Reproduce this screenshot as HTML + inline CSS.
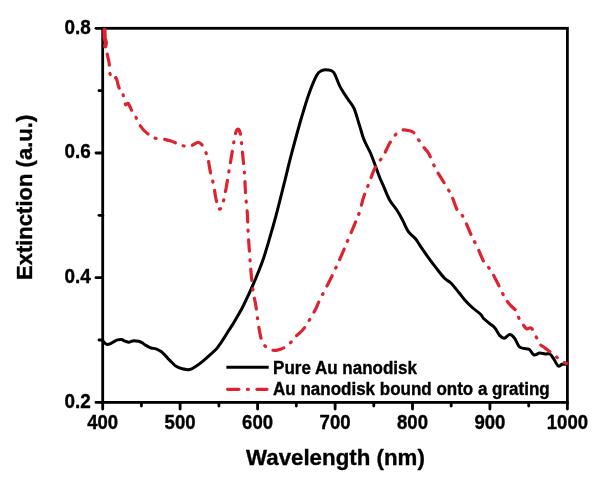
<!DOCTYPE html>
<html><head><meta charset="utf-8"><style>
html,body{margin:0;padding:0;background:#fff;}
svg{display:block;will-change:transform;}
text{font-family:"Liberation Sans",sans-serif;font-weight:bold;fill:#000;stroke:#000;stroke-width:0.35px;}
</style></head><body>
<svg width="601" height="483" viewBox="0 0 601 483">
<rect width="601" height="483" fill="#fff"/>
<g stroke="#000" stroke-width="2.8" fill="none" stroke-linecap="butt">
<rect x="102.7" y="28.3" width="464.7" height="374.1" stroke-linejoin="miter"/>
<line x1="102.7" y1="402.4" x2="102.7" y2="409.1" stroke-linecap="round"/><line x1="141.4" y1="402.4" x2="141.4" y2="406.1" stroke-linecap="round"/><line x1="180.1" y1="402.4" x2="180.1" y2="409.1" stroke-linecap="round"/><line x1="218.9" y1="402.4" x2="218.9" y2="406.1" stroke-linecap="round"/><line x1="257.6" y1="402.4" x2="257.6" y2="409.1" stroke-linecap="round"/><line x1="296.3" y1="402.4" x2="296.3" y2="406.1" stroke-linecap="round"/><line x1="335.1" y1="402.4" x2="335.1" y2="409.1" stroke-linecap="round"/><line x1="373.8" y1="402.4" x2="373.8" y2="406.1" stroke-linecap="round"/><line x1="412.5" y1="402.4" x2="412.5" y2="409.1" stroke-linecap="round"/><line x1="451.2" y1="402.4" x2="451.2" y2="406.1" stroke-linecap="round"/><line x1="489.9" y1="402.4" x2="489.9" y2="409.1" stroke-linecap="round"/><line x1="528.7" y1="402.4" x2="528.7" y2="406.1" stroke-linecap="round"/><line x1="567.4" y1="402.4" x2="567.4" y2="409.1" stroke-linecap="round"/><line x1="102.7" y1="402.4" x2="96.0" y2="402.4" stroke-linecap="round"/><line x1="102.7" y1="340.0" x2="99.0" y2="340.0" stroke-linecap="round"/><line x1="102.7" y1="277.7" x2="96.0" y2="277.7" stroke-linecap="round"/><line x1="102.7" y1="215.3" x2="99.0" y2="215.3" stroke-linecap="round"/><line x1="102.7" y1="153.0" x2="96.0" y2="153.0" stroke-linecap="round"/><line x1="102.7" y1="90.7" x2="99.0" y2="90.7" stroke-linecap="round"/><line x1="102.7" y1="28.3" x2="96.0" y2="28.3" stroke-linecap="round"/>
</g>
<path d="M103.3,341.4 C103.6,341.7 104.6,342.9 105.2,343.4 C105.8,343.9 106.1,344.4 107.0,344.4 C107.9,344.4 109.3,344.1 110.5,343.6 C111.7,343.1 112.8,342.2 114.0,341.6 C115.2,341.0 116.2,340.2 117.5,339.9 C118.8,339.6 120.2,339.4 121.5,339.6 C122.8,339.8 123.7,340.7 125.0,341.1 C126.3,341.5 127.6,342.3 129.1,342.2 C130.6,342.1 132.2,340.8 133.8,340.7 C135.4,340.6 137.1,341.0 138.4,341.3 C139.8,341.6 140.7,342.0 141.9,342.6 C143.1,343.2 144.0,344.3 145.4,345.1 C146.8,345.9 148.7,347.1 150.1,347.6 C151.5,348.2 152.4,348.1 153.6,348.4 C154.8,348.7 155.8,348.8 157.1,349.3 C158.3,349.8 159.8,350.5 161.1,351.5 C162.4,352.5 163.9,354.1 165.2,355.4 C166.5,356.7 167.5,358.0 168.7,359.3 C169.9,360.6 171.3,361.9 172.5,363.0 C173.7,364.1 174.1,365.0 175.7,366.0 C177.3,367.0 180.0,368.2 182.3,368.8 C184.6,369.4 187.4,369.9 189.6,369.5 C191.8,369.1 193.5,367.8 195.6,366.5 C197.7,365.2 200.1,363.4 202.3,361.6 C204.5,359.8 206.7,357.8 208.9,355.8 C211.1,353.8 213.8,351.7 215.6,349.8 C217.4,347.9 218.1,346.6 219.6,344.6 C221.1,342.6 222.8,340.0 224.3,337.6 C225.9,335.2 227.4,332.7 228.9,330.3 C230.4,327.9 232.1,325.6 233.6,323.0 C235.1,320.4 236.6,317.8 238.2,315.0 C239.8,312.2 240.7,311.1 243.2,306.0 C245.7,300.9 249.9,292.1 253.2,284.4 C256.5,276.7 259.8,269.2 263.1,259.6 C266.4,250.0 270.5,235.1 273.0,226.5 C275.5,217.9 276.2,215.1 278.0,208.0 C279.8,200.9 281.7,193.3 284.0,184.2 C286.3,175.1 288.8,164.1 291.7,153.2 C294.6,142.3 298.2,128.8 301.1,119.0 C304.0,109.2 306.2,101.5 308.8,94.2 C311.4,87.0 314.5,79.4 316.6,75.5 C318.7,71.6 319.4,71.8 321.2,70.9 C323.0,70.0 325.4,69.7 327.5,69.9 C329.6,70.2 331.6,69.7 333.7,72.4 C335.8,75.2 337.6,82.0 339.9,86.4 C342.2,90.8 345.3,95.2 347.6,98.8 C349.9,102.4 352.1,104.2 353.9,108.1 C355.7,112.0 356.9,117.2 358.5,122.1 C360.1,127.0 361.9,133.8 363.2,137.6 C364.5,141.4 365.1,142.2 366.4,144.8 C367.6,147.5 369.2,150.1 370.7,153.5 C372.1,156.9 373.7,161.2 375.1,165.1 C376.6,169.0 377.9,173.1 379.4,176.7 C380.8,180.3 382.1,182.9 383.8,186.8 C385.5,190.7 387.4,196.0 389.6,199.9 C391.8,203.8 394.6,206.6 396.8,210.0 C399.0,213.4 400.7,216.5 402.6,220.1 C404.5,223.7 406.2,228.5 408.4,231.7 C410.6,234.8 413.5,236.3 415.7,239.0 C417.9,241.7 419.4,244.7 421.4,247.7 C423.4,250.7 425.2,253.2 427.8,256.8 C430.4,260.4 434.3,265.6 437.1,269.2 C439.9,272.8 442.5,276.2 444.8,278.5 C447.1,280.8 448.8,280.9 451.1,283.2 C453.4,285.5 456.5,289.7 458.8,292.5 C461.1,295.3 462.7,297.6 465.0,300.2 C467.3,302.8 470.2,305.7 472.8,308.0 C475.4,310.3 478.8,312.4 480.6,314.2 C482.4,316.0 482.2,317.1 483.7,318.6 C485.1,320.1 487.4,321.7 489.3,323.3 C491.2,324.9 493.2,326.0 494.9,328.0 C496.6,330.0 498.1,333.7 499.6,335.4 C501.2,337.1 502.5,338.3 504.2,338.2 C505.9,338.1 508.1,334.5 509.8,334.5 C511.5,334.5 513.0,336.2 514.5,338.2 C516.0,340.2 517.6,344.9 519.1,346.6 C520.6,348.3 522.1,347.9 523.8,348.4 C525.5,348.9 527.7,348.3 529.4,349.4 C531.1,350.5 532.3,354.4 534.0,355.0 C535.7,355.6 537.7,353.3 539.6,353.1 C541.5,352.9 543.5,353.9 545.2,354.0 C546.9,354.1 548.5,353.2 549.9,354.0 C551.3,354.8 552.2,356.7 553.6,358.7 C555.0,360.7 556.9,365.2 558.3,366.1 C559.7,367.0 560.6,364.6 562.0,364.3 C563.4,364.0 565.8,364.3 566.6,364.3" fill="none" stroke="#000" stroke-width="3" stroke-linejoin="round" stroke-linecap="round"/>
<path d="M104.5,29.9 L104.6,38 L105.9,42.5 L105.2,46.3" fill="none" stroke="#dd2230" stroke-width="4.2" stroke-linejoin="round" stroke-linecap="round"/>
<path id="r1" d="M107.2,54.0 C107.5,55.6 108.8,60.4 109.2,63.4 C109.6,66.5 108.8,69.6 109.5,72.3 C110.2,75.0 112.3,78.3 113.4,79.3 C114.5,80.2 115.3,76.6 116.2,78.0 C117.1,79.4 118.1,85.8 119.0,87.7 C119.9,89.6 121.0,88.0 121.8,89.6 C122.6,91.1 123.0,94.5 123.6,97.0 C124.2,99.5 124.7,103.4 125.5,104.5 C126.3,105.6 127.2,102.4 128.3,103.5 C129.4,104.6 130.8,108.8 132.0,111.0 C133.2,113.2 134.8,114.8 135.7,116.6 C136.6,118.4 136.8,120.5 137.6,122.1 C138.4,123.6 139.3,124.5 140.4,125.9 C141.5,127.3 142.6,128.9 144.1,130.5 C145.6,132.1 148.0,133.9 149.7,135.2 C151.4,136.4 152.1,137.4 154.3,138.0 C156.5,138.6 160.0,138.4 162.7,138.9 C165.3,139.4 168.0,140.1 170.2,140.8 C172.4,141.5 174.0,142.2 175.8,143.0 C177.7,143.8 179.0,144.8 181.3,145.4 C183.6,146.0 187.8,146.5 189.7,146.4 C191.6,146.3 191.6,145.5 193.0,144.8 C194.4,144.1 196.7,142.3 198.3,142.4 C199.9,142.5 201.3,143.9 202.5,145.5 C203.7,147.1 204.7,149.6 205.6,151.8 C206.5,154.1 207.2,155.7 208.0,159.0 C208.8,162.3 209.4,167.2 210.3,171.6 C211.2,176.0 212.8,180.7 213.7,185.3 C214.6,189.9 215.1,195.1 216.0,199.0 C216.9,202.9 218.3,208.2 219.4,209.0" fill="none" stroke="#dd2230" stroke-width="3.2" stroke-linejoin="round" stroke-linecap="round" stroke-dasharray="11.3 8.5 1 8.5"/>
<path id="r2" d="M219.4,209.0 C220.5,209.8 221.7,207.1 222.8,203.5 C223.9,199.9 225.0,193.7 226.2,187.6 C227.3,181.5 228.5,173.8 229.7,167.0 C230.8,160.2 232.2,151.9 233.1,146.5 C234.0,141.1 234.7,137.2 235.3,134.5 C235.9,131.8 236.2,131.4 236.6,130.5 C237.0,129.6 237.5,129.2 238.0,129.2 C238.5,129.2 239.0,129.5 239.4,130.6 C239.8,131.7 240.1,132.1 240.6,135.5 C241.1,138.9 241.7,144.6 242.3,151.0 C243.0,157.4 243.9,166.7 244.5,173.9 C245.1,181.1 245.1,187.4 245.6,194.4 C246.1,201.4 247.1,209.7 247.5,216.1 C247.9,222.5 247.7,224.8 248.2,233.1 C248.7,241.4 249.7,256.4 250.5,266.2 C251.3,276.0 252.3,285.6 253.2,292.0 C254.1,298.4 254.9,299.6 255.7,304.8 C256.5,310.0 257.5,318.3 258.2,323.0 C258.9,327.7 259.2,329.8 259.9,333.0 C260.6,336.2 261.0,339.5 262.4,342.1 C263.8,344.7 266.0,347.3 268.1,348.7 C270.2,350.1 272.9,350.3 274.8,350.4 C276.7,350.5 277.5,350.3 279.7,349.5 C281.9,348.7 285.5,347.4 288.0,345.4 C290.5,343.4 292.1,340.2 294.6,337.6 C297.1,335.0 300.4,332.6 302.9,329.7 C305.4,326.8 307.4,323.2 309.5,319.9 C311.6,316.6 313.6,313.0 315.3,309.8 C317.0,306.6 316.9,305.8 319.5,300.5 C322.1,295.2 327.5,285.0 330.9,278.2 C334.2,271.4 336.9,265.6 339.6,259.6 C342.3,253.6 344.5,248.0 347.0,242.2 C349.5,236.4 352.3,229.8 354.4,224.8 C356.5,219.8 357.9,216.8 359.4,212.4 C360.9,208.0 362.0,202.3 363.2,198.5 C364.4,194.7 365.4,192.4 366.5,189.5 C367.6,186.6 368.7,184.2 369.8,181.3 C370.9,178.4 371.9,175.1 373.1,172.2 C374.4,169.3 375.7,166.5 377.3,163.9 C378.9,161.3 381.5,158.8 383.0,156.4 C384.5,154.1 385.3,152.0 386.4,149.8 C387.5,147.6 388.3,145.5 389.7,143.2 C391.1,140.8 393.0,137.6 394.6,135.7 C396.2,133.8 398.1,132.6 399.6,131.6 C401.1,130.6 402.1,130.0 403.7,129.9 C405.3,129.8 407.8,130.4 409.5,130.8 C411.2,131.2 412.2,131.1 413.7,132.6 C415.2,134.1 417.1,137.6 418.6,139.9 C420.1,142.2 421.2,143.9 422.9,146.2 C424.6,148.5 426.8,150.1 428.7,153.5 C430.6,156.9 432.6,162.6 434.5,166.5 C436.4,170.4 438.1,173.1 440.3,176.7 C442.5,180.3 445.7,185.3 447.5,188.3 C449.3,191.3 450.1,192.8 451.1,194.7 C452.1,196.6 452.3,197.3 453.3,199.9 C454.3,202.5 455.9,207.7 457.3,210.2 C458.7,212.7 460.3,212.5 461.9,214.8 C463.4,217.1 465.1,220.8 466.6,224.2 C468.2,227.6 469.4,231.1 471.2,235.0 C473.0,238.9 475.4,243.1 477.5,247.5 C479.6,251.9 481.6,257.8 483.7,261.4 C485.8,265.0 488.1,266.6 489.9,269.2 C491.7,271.8 492.7,273.6 494.5,277.0 C496.3,280.4 498.9,285.8 500.7,289.4 C502.5,293.0 503.8,296.1 505.4,298.7 C507.0,301.3 508.3,302.8 510.1,304.9 C511.9,307.0 514.8,308.9 516.3,311.2 C517.8,313.5 518.0,316.4 519.1,318.6 C520.2,320.8 521.6,322.5 522.9,324.2 C524.1,325.9 525.2,328.3 526.6,328.9 C528.0,329.5 529.7,326.8 531.2,328.0 C532.8,329.2 534.5,333.7 535.9,336.3 C537.3,338.9 538.2,341.9 539.6,343.8 C541.0,345.7 542.9,346.4 544.3,347.5 C545.7,348.6 546.6,349.2 548.0,350.3 C549.4,351.4 551.3,352.9 552.7,354.0 C554.1,355.1 554.9,355.6 556.4,356.8 C557.9,358.1 560.3,360.4 562.0,361.5 C563.7,362.6 565.8,363.1 566.6,363.4" fill="none" stroke="#dd2230" stroke-width="3.2" stroke-linejoin="round" stroke-linecap="round" stroke-dasharray="11.3 8.5 1 8.5" stroke-dashoffset="10.0"/>
<g font-size="18.6">
<text transform="translate(102.7,429.2) scale(1,1.045)" text-anchor="middle">400</text><text transform="translate(180.1,429.2) scale(1,1.045)" text-anchor="middle">500</text><text transform="translate(257.6,429.2) scale(1,1.045)" text-anchor="middle">600</text><text transform="translate(335.1,429.2) scale(1,1.045)" text-anchor="middle">700</text><text transform="translate(412.5,429.2) scale(1,1.045)" text-anchor="middle">800</text><text transform="translate(489.9,429.2) scale(1,1.045)" text-anchor="middle">900</text><text transform="translate(567.4,429.2) scale(1,1.045)" text-anchor="middle">1000</text>
<text transform="translate(90.7,407.7) scale(1,1.045)" text-anchor="end" font-size="18.9">0.2</text><text transform="translate(90.7,283.0) scale(1,1.045)" text-anchor="end" font-size="18.9">0.4</text><text transform="translate(90.7,158.3) scale(1,1.045)" text-anchor="end" font-size="18.9">0.6</text><text transform="translate(90.7,33.6) scale(1,1.045)" text-anchor="end" font-size="18.9">0.8</text>
</g>
<text transform="translate(335.4,465.4) scale(1,1.025)" font-size="22.3" text-anchor="middle">Wavelength (nm)</text>
<text transform="translate(31.8,197.4) rotate(-90) scale(1,1.02)" font-size="22.05" text-anchor="middle">Extinction (a.u.)</text>
<line x1="226.4" y1="367.3" x2="268.7" y2="367.3" stroke="#000" stroke-width="2.9"/>
<path d="M227.6,389.3 L267,389.3" stroke="#dd2230" stroke-width="3.2" stroke-linecap="round" stroke-dasharray="11.3 8.5 1 8.5" fill="none"/>
<g font-size="17">
<text transform="translate(273.1,373.8) scale(1,1.03)">Pure Au nanodisk</text>
<text transform="translate(273.1,395.0) scale(1,1.03)">Au nanodisk bound onto a grating</text>
</g>
</svg>
</body></html>
